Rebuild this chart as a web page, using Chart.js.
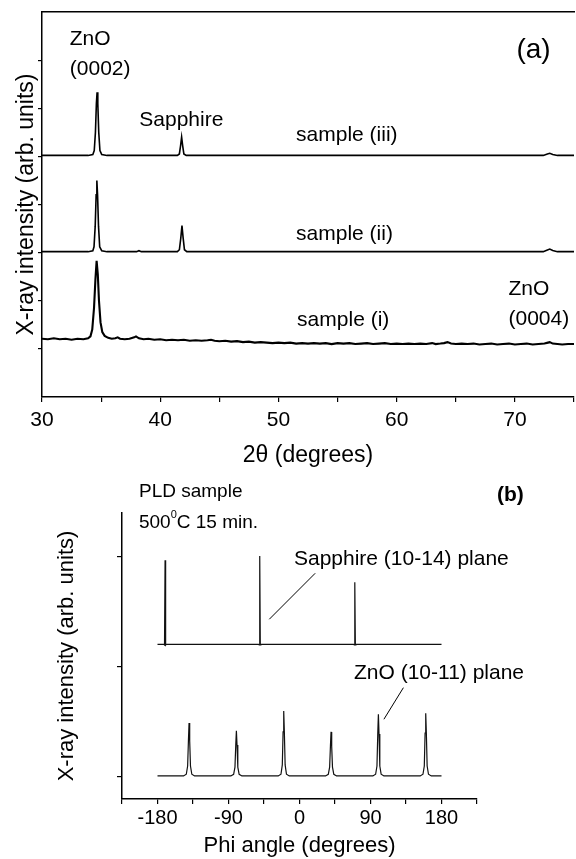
<!DOCTYPE html>
<html>
<head>
<meta charset="utf-8">
<title>ZnO XRD</title>
<script src="https://cdn.jsdelivr.net/npm/chart.js@4.4.1/dist/chart.umd.min.js"></script>
<style>
  html, body { margin: 0; padding: 0; background: #fff; }
  body { width: 576px; height: 859px; overflow: hidden; position: relative; }
  canvas { position: absolute; left: 0; }
  #xrdChart { top: 0; }
  #phiChart { top: 470px; }
</style>
</head>
<body>
<canvas id="xrdChart" width="580" height="470"></canvas>
<canvas id="phiChart" width="576" height="389"></canvas>
<script>
const FONT = "'Liberation Sans', Arial, Helvetica, sans-serif";

// (a) 2theta scans, traces stacked with an offset: [2theta, intensity]
const twoThetaTicks = [30, 35, 40, 45, 50, 55, 60, 65, 70, 75];
const twoThetaLabels = ["30", "", "40", "", "50", "", "60", "", "70", ""];
const intensityTicksA = [1, 2, 3, 4, 5, 6, 7];

const sampleIII = [
  [30.0, 5.02], [33.9, 5.02], [34.3, 5.04], [34.42, 5.12], [34.52, 5.5], [34.6, 6.1],
  [34.66, 6.33], [34.72, 6.1], [34.8, 5.5], [34.9, 5.12], [35.05, 5.04], [35.5, 5.02],
  [41.45, 5.02], [41.62, 5.05], [41.72, 5.22], [41.81, 5.4], [41.9, 5.22], [42.0, 5.05],
  [42.2, 5.02], [72.4, 5.02], [72.75, 5.05], [72.95, 5.065], [73.2, 5.04], [73.6, 5.02],
  [75.0, 5.02]
];

const sampleII = [
  [30.0, 3.02], [33.9, 3.02], [34.3, 3.04], [34.4, 3.12], [34.5, 3.55], [34.58, 4.2],
  [34.64, 4.5], [34.7, 4.2], [34.78, 3.55], [34.88, 3.12], [35.05, 3.04], [35.5, 3.02],
  [38.0, 3.02], [38.2, 3.04], [38.4, 3.02], [41.45, 3.02], [41.62, 3.06], [41.74, 3.3],
  [41.84, 3.56], [41.94, 3.3], [42.05, 3.06], [42.25, 3.02], [72.4, 3.02], [72.7, 3.05],
  [72.95, 3.075], [73.2, 3.045], [73.6, 3.02], [75.0, 3.02]
];

const sampleI = [
  [30.0, 1.21], [30.5, 1.2], [31.0, 1.22], [31.5, 1.2], [32.0, 1.21], [32.5, 1.19],
  [33.0, 1.21], [33.5, 1.2], [33.9, 1.22], [34.1, 1.26], [34.25, 1.4], [34.4, 1.85],
  [34.52, 2.45], [34.62, 2.83], [34.72, 2.55], [34.82, 2.0], [34.95, 1.55], [35.1, 1.35],
  [35.3, 1.27], [35.6, 1.23], [35.9, 1.21], [36.2, 1.22], [36.4, 1.24], [36.6, 1.21],
  [37.0, 1.2], [37.4, 1.21], [37.8, 1.24], [37.95, 1.26], [38.2, 1.22], [38.6, 1.2],
  [39.0, 1.21], [39.5, 1.19], [40.0, 1.2], [40.5, 1.18], [41.0, 1.19], [41.5, 1.18],
  [42.0, 1.19], [42.5, 1.17], [43.0, 1.18], [43.5, 1.17], [44.0, 1.18], [44.3, 1.19],
  [44.6, 1.17], [45.0, 1.16], [45.5, 1.17], [46.0, 1.15], [46.5, 1.16], [47.0, 1.14],
  [47.5, 1.15], [48.0, 1.13], [48.5, 1.14], [49.0, 1.13], [49.5, 1.12], [50.0, 1.13],
  [50.5, 1.12], [51.0, 1.13], [51.5, 1.11], [52.0, 1.12], [52.5, 1.11], [53.0, 1.12],
  [53.5, 1.11], [54.0, 1.12], [54.5, 1.1], [55.0, 1.12], [55.5, 1.11], [56.0, 1.12],
  [56.5, 1.1], [57.0, 1.11], [57.5, 1.12], [58.0, 1.1], [58.5, 1.11], [59.0, 1.12],
  [59.5, 1.1], [60.0, 1.11], [60.5, 1.1], [61.0, 1.11], [61.5, 1.1], [62.0, 1.11],
  [62.5, 1.1], [63.0, 1.12], [63.3, 1.1], [63.7, 1.11], [64.0, 1.12], [64.3, 1.14],
  [64.6, 1.11], [65.0, 1.1], [65.5, 1.11], [66.0, 1.1], [66.5, 1.11], [67.0, 1.09],
  [67.5, 1.1], [68.0, 1.11], [68.5, 1.09], [69.0, 1.1], [69.5, 1.11], [70.0, 1.09],
  [70.5, 1.1], [71.0, 1.11], [71.5, 1.09], [72.0, 1.1], [72.5, 1.11], [72.8, 1.13],
  [72.95, 1.14], [73.2, 1.11], [73.6, 1.1], [74.0, 1.09], [74.5, 1.1], [75.0, 1.1]
];

// (b) phi scans: [phi, intensity]
const phiTicks = [-225, -180, -135, -90, -45, 0, 45, 90, 135, 180, 225];
const phiLabels = ["", "-180", "", "-90", "", "0", "", "90", "", "180", ""];
const intensityTicksB = [0, 1, 2];

const sapphirePhi = [
  [-180, 1.206], [-172, 1.206], [-171.1, 1.2], [-170.4, 1.97], [-169.7, 1.2], [-169, 1.206],
  [-52, 1.206], [-51.1, 1.2], [-50.4, 2.01], [-49.7, 1.2], [-49, 1.206],
  [68.5, 1.206], [69.4, 1.2], [70.1, 1.77], [70.8, 1.2], [71.5, 1.206], [180, 1.206]
];

const znoPhi = [
  [-180, 0.01], [-147, 0.01], [-143.5, 0.025], [-141.8, 0.1], [-140.8, 0.33], [-140, 0.49],
  [-139.2, 0.33], [-138.2, 0.1], [-136.5, 0.025], [-133, 0.01],
  [-87, 0.01], [-83.5, 0.025], [-81.8, 0.09], [-80.8, 0.29], [-80, 0.42], [-79.2, 0.29],
  [-78.2, 0.09], [-76.5, 0.025], [-73, 0.01],
  [-27, 0.01], [-23.5, 0.025], [-21.8, 0.11], [-20.8, 0.41], [-20, 0.6], [-19.2, 0.41],
  [-18.2, 0.11], [-16.5, 0.025], [-13, 0.01],
  [33, 0.01], [36.5, 0.025], [38.2, 0.09], [39.2, 0.28], [40, 0.41], [40.8, 0.28],
  [41.8, 0.09], [43.5, 0.025], [47, 0.01],
  [93, 0.01], [96.5, 0.025], [98.2, 0.1], [99.2, 0.39], [100, 0.57], [100.8, 0.39],
  [101.8, 0.1], [103.5, 0.025], [107, 0.01],
  [153, 0.01], [156.5, 0.025], [158.2, 0.1], [159.2, 0.4], [160, 0.58], [160.8, 0.4],
  [161.8, 0.1], [163.5, 0.025], [167, 0.01], [180, 0.01]
];

const toPoints = (arr) => arr.map(([x, y]) => ({ x, y }));

// text and pointer lines placed in data coordinates
const notesPlugin = {
  id: "notes",
  afterDraw(chart, args, opts) {
    const { ctx } = chart;
    const xs = chart.scales.x;
    const ys = chart.scales.y;
    ctx.save();
    ctx.fillStyle = "#000";
    ctx.strokeStyle = "#000";
    ctx.textBaseline = "alphabetic";
    ctx.textAlign = "left";
    (opts.lines || []).forEach((l) => {
      ctx.lineWidth = 1;
      ctx.beginPath();
      ctx.moveTo(xs.getPixelForValue(l.from[0]), ys.getPixelForValue(l.from[1]));
      ctx.lineTo(xs.getPixelForValue(l.to[0]), ys.getPixelForValue(l.to[1]));
      ctx.stroke();
    });
    (opts.labels || []).forEach((n) => {
      let px = xs.getPixelForValue(n.x);
      const py = ys.getPixelForValue(n.y);
      const parts = n.parts || [{ text: n.text }];
      parts.forEach((p) => {
        const size = p.size || n.size;
        ctx.font = (n.bold ? "bold " : "") + size + "px " + FONT;
        ctx.fillText(p.text, px, py - (p.rise || 0));
        px += ctx.measureText(p.text).width;
      });
    });
    ctx.restore();
  },
};

function axisLines(tickLength) {
  return {
    grid: {
      display: true,
      drawOnChartArea: false,
      drawTicks: true,
      tickLength: tickLength,
      color: "#000",
      lineWidth: 1.2,
    },
    border: { display: true, color: "#000", width: 1.5 },
  };
}

function traces(list) {
  return list.map((d) => ({
    data: toPoints(d.data),
    borderWidth: d.width,
    borderColor: d.color || "#000",
    showLine: true,
    pointRadius: 0,
    tension: 0,
  }));
}

Chart.defaults.font.family = FONT;
Chart.defaults.color = "#000";

new Chart(document.getElementById("xrdChart"), {
  type: "scatter",
  data: {
    datasets: traces([
      { data: sampleIII, width: 1.6 },
      { data: sampleII, width: 1.6 },
      { data: sampleI, width: 2.1 },
    ]),
  },
  options: {
    responsive: false,
    animation: false,
    layout: { padding: { left: 0, right: 2, top: 0, bottom: 0 } },
    plugins: {
      legend: { display: false },
      tooltip: { enabled: false },
      notes: {
        labels: [
          { text: "ZnO", x: 32.35, y: 7.31, size: 21 },
          { text: "(0002)", x: 32.35, y: 6.69, size: 21 },
          { text: "Sapphire", x: 38.23, y: 5.63, size: 21 },
          { text: "sample (iii)", x: 51.49, y: 5.32, size: 21 },
          { text: "sample (ii)", x: 51.49, y: 3.26, size: 21 },
          { text: "sample (i)", x: 51.58, y: 1.48, size: 21 },
          { text: "ZnO", x: 69.46, y: 2.12, size: 21 },
          { text: "(0004)", x: 69.46, y: 1.5, size: 21 },
          { text: "(a)", x: 70.13, y: 7.04, size: 28 },
        ],
      },
    },
    scales: {
      x: {
        type: "linear",
        position: "bottom",
        min: 30,
        max: 75,
        ...axisLines(5),
        afterBuildTicks: (s) => { s.ticks = twoThetaTicks.map((v) => ({ value: v })); },
        afterFit: (s) => { s.height = 73; },
        ticks: {
          autoSkip: false,
          maxRotation: 0,
          padding: 6,
          font: { size: 21 },
          callback: (v, i) => twoThetaLabels[i],
        },
        title: {
          display: true,
          text: "2θ (degrees)",
          font: { size: 23 },
          padding: { top: 0, bottom: 1 },
        },
      },
      xTop: {
        type: "linear",
        position: "top",
        min: 30,
        max: 75,
        grid: { display: false, drawTicks: false },
        border: { display: true, color: "#000", width: 1.5 },
        ticks: { display: false },
        afterFit: (s) => { s.height = 12; },
      },
      y: {
        type: "linear",
        min: 0,
        max: 8,
        ...axisLines(4),
        afterBuildTicks: (s) => { s.ticks = intensityTicksA.map((v) => ({ value: v })); },
        afterFit: (s) => { s.width = 42; },
        ticks: { display: false },
        title: {
          display: true,
          text: "X-ray intensity (arb. units)",
          font: { size: 23 },
          padding: { top: 13, bottom: 0 },
        },
      },
    },
  },
  plugins: [notesPlugin],
});

new Chart(document.getElementById("phiChart"), {
  type: "scatter",
  data: {
    datasets: traces([
      { data: sapphirePhi, width: 1.2, color: "#111" },
      { data: znoPhi, width: 1.2, color: "#111" },
    ]),
  },
  options: {
    responsive: false,
    animation: false,
    layout: { padding: { left: 0, right: 99, top: 43, bottom: 0 } },
    plugins: {
      legend: { display: false },
      tooltip: { enabled: false },
      notes: {
        labels: [
          { text: "PLD sample", x: -203.5, y: 2.545, size: 19 },
          {
            x: -203.5, y: 2.264, size: 19,
            parts: [{ text: "500" }, { text: "0", size: 11, rise: 10 }, { text: "C 15 min." }],
          },
          { text: "(b)", x: 250.3, y: 2.51, size: 21, bold: true },
          { text: "Sapphire (10-14) plane", x: -7.0, y: 1.927, size: 21 },
          { text: "ZnO (10-11) plane", x: 69.1, y: 0.891, size: 21 },
        ],
        lines: [
          { from: [-38.3, 1.434], to: [19.9, 1.852] },
          { from: [131.7, 0.812], to: [107.0, 0.525] },
        ],
      },
    },
    scales: {
      x: {
        type: "linear",
        position: "bottom",
        min: -225,
        max: 225,
        ...axisLines(5),
        afterBuildTicks: (s) => { s.ticks = phiTicks.map((v) => ({ value: v })); },
        afterFit: (s) => { s.height = 60; },
        ticks: {
          autoSkip: false,
          maxRotation: 0,
          padding: 2,
          font: { size: 20 },
          callback: (v, i) => phiLabels[i],
        },
        title: {
          display: true,
          text: "Phi angle (degrees)",
          font: { size: 22 },
          padding: { top: 0, bottom: 0 },
        },
      },
      y: {
        type: "linear",
        min: -0.2,
        max: 2.4,
        ...axisLines(5),
        afterBuildTicks: (s) => { s.ticks = intensityTicksB.map((v) => ({ value: v })); },
        afterFit: (s) => { s.width = 122; },
        ticks: { display: false },
        title: {
          display: true,
          text: "X-ray intensity (arb. units)",
          font: { size: 22 },
          padding: { top: 54, bottom: 0 },
        },
      },
    },
  },
  plugins: [notesPlugin],
});
</script>
</body>
</html>
